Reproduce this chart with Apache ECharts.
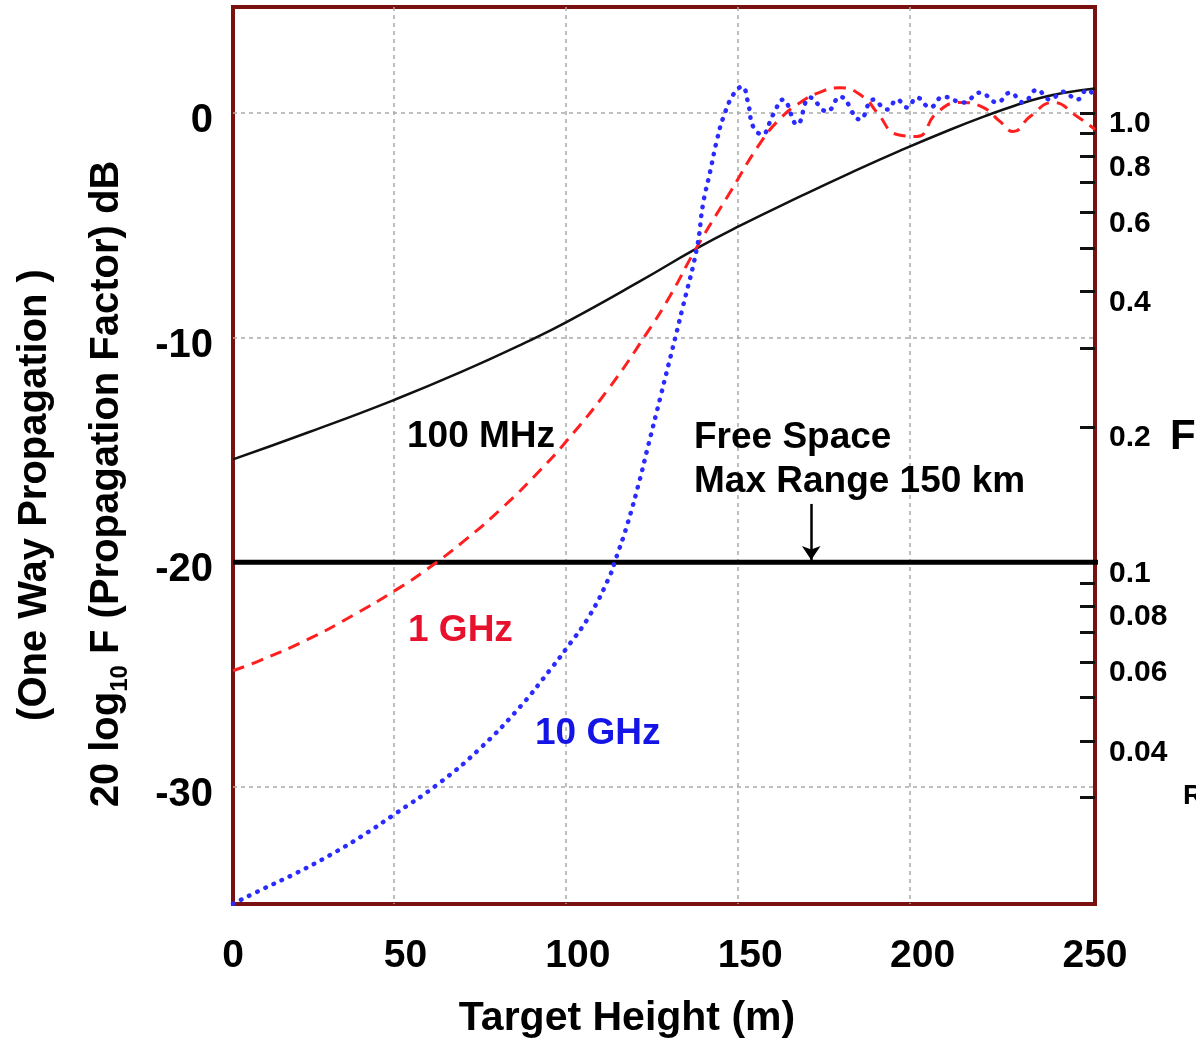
<!DOCTYPE html>
<html><head><meta charset="utf-8">
<script src="https://cdn.jsdelivr.net/npm/echarts@6/dist/echarts.min.js"></script>
<style>html,body{margin:0;padding:0;background:#fff}#c{width:1196px;height:1044px}</style>
</head><body><div id="c"></div>
<script>
// ---- data (target height in m, propagation factor in dB) ----
const xTickLabels = [0, 50, 100, 150, 200, 250];
const xGridValues = [50, 100, 150, 200];
const yTickValues = [0, -10, -20, -30];
const rightTickF = [1.0, 0.9, 0.8, 0.7, 0.6, 0.5, 0.4, 0.3, 0.2, 0.1, 0.09, 0.08, 0.07, 0.06, 0.05, 0.04, 0.03];
const rightLabelF = ['1.0', '0.8', '0.6', '0.4', '0.2', '0.1', '0.08', '0.06', '0.04'];

const h100MHz = [3.1, 25.5, 49.7, 69.2, 89.6, 100.3, 121.6, 138.2, 150.7, 168.2, 182.7, 197.3, 211.8, 223.5, 230.8, 238.0, 244.7, 254.0];
const db100MHz = [-15.42, -14.19, -12.79, -11.55, -10.12, -9.30, -7.49, -6.02, -5.02, -3.72, -2.68, -1.68, -0.75, -0.06, 0.33, 0.66, 0.88, 1.08];

const h1GHz = [3.1, 10.4, 24.7, 38.0, 50.9, 59.6, 70.1, 81.7, 92.5, 100.3, 112.0, 123.6, 130.3, 137.6, 147.8, 156.5, 162.4, 168.2, 173.1, 179.8, 186.5, 190.6, 196.4, 202.2, 208.0, 214.7, 221.4, 226.4, 230.2, 235.1, 241.8, 248.8, 254.0];
const db1GHz = [-24.82, -24.40, -23.44, -22.36, -21.19, -20.30, -19.08, -17.54, -15.90, -14.58, -12.36, -9.79, -8.15, -6.11, -3.53, -1.36, -0.25, 0.46, 0.87, 1.12, 0.72, 0.01, -0.96, -1.05, 0.01, 0.46, 0.24, -0.39, -0.83, -0.16, 0.46, -0.16, -0.74];

const h10GHz = [3.1, 11.85, 21.7, 31.4, 41.0, 49.7, 63.4, 75.0, 86.7, 95.4, 100.3, 107.0, 112.9, 114.3, 117.8, 121.6, 123.6, 127.4, 134.1, 138.2, 139.9, 142.0, 144.0, 145.8, 148.7, 151.3, 153.0, 154.5, 157.1, 160.3, 163.2, 167.3, 171.1, 176.0, 179.8, 185.6, 189.4, 193.5, 196.4, 199.3, 202.2, 206.0, 209.8, 215.6, 220.6, 225.5, 229.3, 233.1, 237.1, 240.9, 244.7, 248.8, 251.7, 254.0];
const db10GHz = [-35.19, -34.53, -33.81, -33.02, -32.14, -31.25, -29.79, -28.28, -26.42, -24.78, -23.80, -22.34, -20.56, -19.94, -18.35, -16.26, -15.02, -12.71, -8.59, -5.96, -4.07, -2.60, -1.18, -0.21, 0.81, 1.17, 0.46, -0.61, -0.96, -0.08, 0.59, -0.52, 0.68, 0.06, 0.72, -0.30, 0.59, 0.15, 0.59, 0.24, 0.68, 0.24, 0.72, 0.46, 0.90, 0.46, 0.90, 0.46, 1.03, 0.59, 0.94, 0.59, 1.03, 0.72];

const freeSpaceDb = -20;
const freeSpaceH = [3.1, 259];
const arrowH = 171.4;
const arrowDb = [-17.4, -19.9];

// ---- chart ----
const FF = '"Liberation Sans", Arial, Helvetica, sans-serif';
const toDb = f => 20 * Math.log10(f);
const rightTickDb = rightTickF.map(toDb);
const rightLabelDb = rightLabelF.map(s => toDb(Number(s)));
const pairs = (xs, ys) => xs.map((x, i) => [x, ys[i]]);
const gridLine = { show: true, lineStyle: { color: '#aaaaaa', type: [4, 4], width: 1.5 } };

const chart = echarts.init(document.getElementById('c'), null, { renderer: 'canvas' });
chart.setOption({
  animation: false,
  backgroundColor: '#ffffff',
  grid: { left: 233, top: 7, right: 101, bottom: 137, show: true, borderColor: '#7a1010', borderWidth: 4, backgroundColor: '#ffffff' },
  xAxis: [
    {
      type: 'value', min: 0, max: 250, position: 'bottom',
      axisLine: { show: false }, axisTick: { show: false }, splitLine: { show: false },
      axisLabel: { customValues: xTickLabels, fontSize: 39, fontWeight: 'bold', color: '#000', margin: 33, fontFamily: FF },
      name: 'Target Height (m)', nameLocation: 'middle', nameGap: 94,
      nameTextStyle: { fontSize: 41, fontWeight: 'bold', color: '#000', fontFamily: FF, padding: [0, 74, 0, 0] }
    },
    {
      type: 'value', min: 3.1, max: 254, position: 'bottom',
      axisLine: { show: false }, axisTick: { show: false, customValues: xGridValues },
      axisLabel: { show: false }, splitLine: gridLine
    }
  ],
  yAxis: [
    {
      type: 'value', min: -35.2, max: 4.71, position: 'left',
      axisLine: { show: false }, axisTick: { show: false, customValues: yTickValues },
      axisLabel: { customValues: yTickValues, fontSize: 40, fontWeight: 'bold', color: '#000', margin: 20, verticalAlign: 'top', lineHeight: 16, fontFamily: FF },
      splitLine: gridLine
    },
    {
      type: 'value', min: -35.2, max: 4.71, position: 'right',
      axisLine: { show: false },
      axisTick: { show: true, inside: true, length: 15, lineStyle: { color: '#111', width: 3 }, customValues: rightTickDb },
      axisLabel: {
        customValues: rightLabelDb, fontSize: 30, fontWeight: 'bold', color: '#000', margin: 14, verticalAlign: 'top', lineHeight: 22, fontFamily: FF,
        formatter: v => {
          let best = 0;
          rightLabelDb.forEach((d, i) => { if (Math.abs(d - v) < Math.abs(rightLabelDb[best] - v)) best = i; });
          return rightLabelF[best];
        }
      },
      splitLine: { show: false }
    }
  ],
  series: [
    {
      name: 'Free Space', type: 'line', xAxisIndex: 1, yAxisIndex: 0, z: 2, clip: false,
      data: freeSpaceH.map(h => [h, freeSpaceDb]), symbol: 'none',
      lineStyle: { color: '#000', width: 5 },
      markLine: {
        silent: true, symbol: ['none', 'arrow'], symbolSize: 14, label: { show: false },
        lineStyle: { color: '#000', width: 2.5, type: 'solid' },
        data: [[{ coord: [arrowH, arrowDb[0]] }, { coord: [arrowH, arrowDb[1]] }]]
      }
    },
    {
      name: '100 MHz', type: 'line', xAxisIndex: 1, yAxisIndex: 0, z: 3, smooth: 0.5,
      data: pairs(h100MHz, db100MHz), symbol: 'none',
      lineStyle: { color: '#111', width: 2.5 }
    },
    {
      name: '1 GHz', type: 'line', xAxisIndex: 1, yAxisIndex: 0, z: 4, smooth: 0.5,
      data: pairs(h1GHz, db1GHz), symbol: 'none',
      lineStyle: { color: '#ff1f1f', width: 3, type: [12, 8] }
    },
    {
      name: '10 GHz', type: 'line', xAxisIndex: 1, yAxisIndex: 0, z: 5, smooth: 0.45,
      data: pairs(h10GHz, db10GHz), symbol: 'none',
      lineStyle: { color: '#2b2bff', width: 4.5, type: [0.5, 8.5], cap: 'round' }
    }
  ],
  graphic: [
    { type: 'text', x: 35, y: 495, rotation: Math.PI / 2, z: 10,
      style: { text: '(One Way Propagation )', font: 'bold 40px ' + FF, fill: '#000', align: 'center', verticalAlign: 'middle' } },
    { type: 'text', x: 107, y: 484, rotation: Math.PI / 2, z: 10,
      style: { text: '{n|20 log}{s|10}{n| F (Propagation Factor) dB}', align: 'center', verticalAlign: 'middle', fill: '#000',
        rich: { n: { font: 'bold 40px ' + FF, lineHeight: 50, verticalAlign: 'middle', fill: '#000' },
                s: { font: 'bold 24px ' + FF, lineHeight: 24, verticalAlign: 'bottom', fill: '#000' } } } },
    { type: 'text', x: 407, y: 437, z: 10, style: { text: '100 MHz', font: 'bold 37px ' + FF, fill: '#000', align: 'left', verticalAlign: 'middle' } },
    { type: 'text', x: 408, y: 631, z: 10, style: { text: '1 GHz', font: 'bold 37px ' + FF, fill: '#e8112d', align: 'left', verticalAlign: 'middle' } },
    { type: 'text', x: 535, y: 734, z: 10, style: { text: '10 GHz', font: 'bold 37px ' + FF, fill: '#1414e6', align: 'left', verticalAlign: 'middle' } },
    { type: 'text', x: 694, y: 438, z: 10, style: { text: 'Free Space', font: 'bold 37px ' + FF, fill: '#000', align: 'left', verticalAlign: 'middle' } },
    { type: 'text', x: 694, y: 482, z: 10, style: { text: 'Max Range 150 km', font: 'bold 37px ' + FF, fill: '#000', align: 'left', verticalAlign: 'middle' } },
    { type: 'text', x: 1170, y: 437, z: 10, style: { text: 'F', font: 'bold 42px ' + FF, fill: '#000', align: 'left', verticalAlign: 'middle' } },
    { type: 'text', x: 1183, y: 796, z: 10, style: { text: 'R', font: 'bold 28px ' + FF, fill: '#000', align: 'left', verticalAlign: 'middle' } }
  ]
});
</script></body></html>
